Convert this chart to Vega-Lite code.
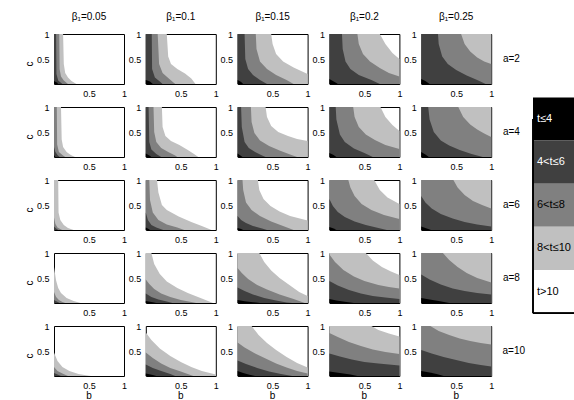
{
"$schema": "https://vega.github.io/schema/vega-lite/v6.json",
"padding": {"left": 25, "top": 12, "right": 0, "bottom": 0},
"config": {
 "font": "Liberation Sans",
 "view": {"stroke": "black", "strokeWidth": 1},
 "axis": {"domain": false, "ticks": false, "grid": false, "labelFontSize": 9, "labelColor": "black", "labelPadding": 5, "labelFlush": false, "labelOverlap": false, "format": "~g"},
 "header": {"labelFontSize": 10, "titleFontSize": 10, "titleFontWeight": "normal", "labelColor": "black", "titleColor": "black"}
},
"datasets": {
 "leg": [{"lab": "t≤4"}, {"lab": "4<t≤6"}, {"lab": "6<t≤8"}, {"lab": "8<t≤10"}, {"lab": "t>10"}],
 "d": [
{"a":2,"p":0.05,"k":10,"b":0,"c":1},{"a":2,"p":0.05,"k":10,"b":0.13,"c":1},{"a":2,"p":0.05,"k":10,"b":0.14,"c":0.4},{"a":2,"p":0.05,"k":10,"b":0.16,"c":0.22},{"a":2,"p":0.05,"k":10,"b":0.2,"c":0.13},{"a":2,"p":0.05,"k":10,"b":0.25,"c":0.06},{"a":2,"p":0.05,"k":10,"b":0.32,"c":0},
{"a":2,"p":0.05,"k":8,"b":0,"c":1},{"a":2,"p":0.05,"k":8,"b":0.075,"c":1},{"a":2,"p":0.05,"k":8,"b":0.08,"c":0.3},{"a":2,"p":0.05,"k":8,"b":0.1,"c":0.15},{"a":2,"p":0.05,"k":8,"b":0.14,"c":0.07},{"a":2,"p":0.05,"k":8,"b":0.2,"c":0},
{"a":2,"p":0.05,"k":6,"b":0,"c":1},{"a":2,"p":0.05,"k":6,"b":0.03,"c":1},{"a":2,"p":0.05,"k":6,"b":0.035,"c":0.2},{"a":2,"p":0.05,"k":6,"b":0.06,"c":0.07},{"a":2,"p":0.05,"k":6,"b":0.12,"c":0},
{"a":2,"p":0.05,"k":4,"b":0,"c":0.06},{"a":2,"p":0.05,"k":4,"b":0.04,"c":0.03},{"a":2,"p":0.05,"k":4,"b":0.06,"c":0},

{"a":2,"p":0.1,"k":10,"b":0,"c":1},{"a":2,"p":0.1,"k":10,"b":0.3,"c":1},{"a":2,"p":0.1,"k":10,"b":0.32,"c":0.55},{"a":2,"p":0.1,"k":10,"b":0.36,"c":0.4},{"a":2,"p":0.1,"k":10,"b":0.45,"c":0.3},{"a":2,"p":0.1,"k":10,"b":0.56,"c":0.21},{"a":2,"p":0.1,"k":10,"b":0.65,"c":0.11},{"a":2,"p":0.1,"k":10,"b":0.71,"c":0},
{"a":2,"p":0.1,"k":8,"b":0,"c":1},{"a":2,"p":0.1,"k":8,"b":0.17,"c":1},{"a":2,"p":0.1,"k":8,"b":0.19,"c":0.4},{"a":2,"p":0.1,"k":8,"b":0.24,"c":0.22},{"a":2,"p":0.1,"k":8,"b":0.32,"c":0.12},{"a":2,"p":0.1,"k":8,"b":0.42,"c":0},
{"a":2,"p":0.1,"k":6,"b":0,"c":1},{"a":2,"p":0.1,"k":6,"b":0.085,"c":1},{"a":2,"p":0.1,"k":6,"b":0.09,"c":0.3},{"a":2,"p":0.1,"k":6,"b":0.13,"c":0.13},{"a":2,"p":0.1,"k":6,"b":0.2,"c":0.05},{"a":2,"p":0.1,"k":6,"b":0.24,"c":0},
{"a":2,"p":0.1,"k":4,"b":0,"c":0.08},{"a":2,"p":0.1,"k":4,"b":0.06,"c":0.05},{"a":2,"p":0.1,"k":4,"b":0.1,"c":0},

{"a":2,"p":0.15,"k":10,"b":0,"c":1},{"a":2,"p":0.15,"k":10,"b":0.48,"c":1},{"a":2,"p":0.15,"k":10,"b":0.5,"c":0.8},{"a":2,"p":0.15,"k":10,"b":0.55,"c":0.6},{"a":2,"p":0.15,"k":10,"b":0.65,"c":0.45},{"a":2,"p":0.15,"k":10,"b":0.8,"c":0.33},{"a":2,"p":0.15,"k":10,"b":1,"c":0.2},
{"a":2,"p":0.15,"k":8,"b":0,"c":1},{"a":2,"p":0.15,"k":8,"b":0.26,"c":1},{"a":2,"p":0.15,"k":8,"b":0.27,"c":0.7},{"a":2,"p":0.15,"k":8,"b":0.32,"c":0.45},{"a":2,"p":0.15,"k":8,"b":0.42,"c":0.3},{"a":2,"p":0.15,"k":8,"b":0.55,"c":0.18},{"a":2,"p":0.15,"k":8,"b":0.7,"c":0.08},{"a":2,"p":0.15,"k":8,"b":0.8,"c":0},
{"a":2,"p":0.15,"k":6,"b":0,"c":1},{"a":2,"p":0.15,"k":6,"b":0.1,"c":1},{"a":2,"p":0.15,"k":6,"b":0.11,"c":0.5},{"a":2,"p":0.15,"k":6,"b":0.15,"c":0.3},{"a":2,"p":0.15,"k":6,"b":0.22,"c":0.18},{"a":2,"p":0.15,"k":6,"b":0.32,"c":0.08},{"a":2,"p":0.15,"k":6,"b":0.42,"c":0},
{"a":2,"p":0.15,"k":4,"b":0,"c":0.08},{"a":2,"p":0.15,"k":4,"b":0.05,"c":0.04},{"a":2,"p":0.15,"k":4,"b":0.08,"c":0},

{"a":2,"p":0.2,"k":10,"b":0,"c":1},{"a":2,"p":0.2,"k":10,"b":0.72,"c":1},{"a":2,"p":0.2,"k":10,"b":0.8,"c":0.8},{"a":2,"p":0.2,"k":10,"b":0.9,"c":0.62},{"a":2,"p":0.2,"k":10,"b":1,"c":0.5},
{"a":2,"p":0.2,"k":8,"b":0,"c":1},{"a":2,"p":0.2,"k":8,"b":0.4,"c":1},{"a":2,"p":0.2,"k":8,"b":0.42,"c":0.8},{"a":2,"p":0.2,"k":8,"b":0.48,"c":0.6},{"a":2,"p":0.2,"k":8,"b":0.58,"c":0.45},{"a":2,"p":0.2,"k":8,"b":0.72,"c":0.32},{"a":2,"p":0.2,"k":8,"b":0.85,"c":0.22},{"a":2,"p":0.2,"k":8,"b":1,"c":0.15},
{"a":2,"p":0.2,"k":6,"b":0,"c":1},{"a":2,"p":0.2,"k":6,"b":0.18,"c":1},{"a":2,"p":0.2,"k":6,"b":0.19,"c":0.7},{"a":2,"p":0.2,"k":6,"b":0.23,"c":0.45},{"a":2,"p":0.2,"k":6,"b":0.3,"c":0.3},{"a":2,"p":0.2,"k":6,"b":0.42,"c":0.18},{"a":2,"p":0.2,"k":6,"b":0.6,"c":0.08},{"a":2,"p":0.2,"k":6,"b":0.72,"c":0},
{"a":2,"p":0.2,"k":4,"b":0,"c":0.1},{"a":2,"p":0.2,"k":4,"b":0.05,"c":0.06},{"a":2,"p":0.2,"k":4,"b":0.1,"c":0.02},{"a":2,"p":0.2,"k":4,"b":0.12,"c":0},

{"a":2,"p":0.25,"k":10,"b":0,"c":1},{"a":2,"p":0.25,"k":10,"b":1,"c":1},
{"a":2,"p":0.25,"k":8,"b":0,"c":1},{"a":2,"p":0.25,"k":8,"b":0.57,"c":1},{"a":2,"p":0.25,"k":8,"b":0.62,"c":0.8},{"a":2,"p":0.25,"k":8,"b":0.7,"c":0.65},{"a":2,"p":0.25,"k":8,"b":0.8,"c":0.53},{"a":2,"p":0.25,"k":8,"b":0.9,"c":0.45},{"a":2,"p":0.25,"k":8,"b":1,"c":0.4},
{"a":2,"p":0.25,"k":6,"b":0,"c":1},{"a":2,"p":0.25,"k":6,"b":0.24,"c":1},{"a":2,"p":0.25,"k":6,"b":0.25,"c":0.8},{"a":2,"p":0.25,"k":6,"b":0.3,"c":0.55},{"a":2,"p":0.25,"k":6,"b":0.38,"c":0.4},{"a":2,"p":0.25,"k":6,"b":0.5,"c":0.28},{"a":2,"p":0.25,"k":6,"b":0.65,"c":0.17},{"a":2,"p":0.25,"k":6,"b":0.8,"c":0.08},{"a":2,"p":0.25,"k":6,"b":0.92,"c":0},
{"a":2,"p":0.25,"k":4,"b":0,"c":0.1},{"a":2,"p":0.25,"k":4,"b":0.06,"c":0.06},{"a":2,"p":0.25,"k":4,"b":0.1,"c":0.02},{"a":2,"p":0.25,"k":4,"b":0.12,"c":0},

{"a":4,"p":0.05,"k":10,"b":0,"c":1},{"a":4,"p":0.05,"k":10,"b":0.1,"c":1},{"a":4,"p":0.05,"k":10,"b":0.11,"c":0.35},{"a":4,"p":0.05,"k":10,"b":0.13,"c":0.2},{"a":4,"p":0.05,"k":10,"b":0.18,"c":0.1},{"a":4,"p":0.05,"k":10,"b":0.24,"c":0.04},{"a":4,"p":0.05,"k":10,"b":0.3,"c":0},
{"a":4,"p":0.05,"k":8,"b":0,"c":1},{"a":4,"p":0.05,"k":8,"b":0.04,"c":1},{"a":4,"p":0.05,"k":8,"b":0.045,"c":0.25},{"a":4,"p":0.05,"k":8,"b":0.07,"c":0.1},{"a":4,"p":0.05,"k":8,"b":0.12,"c":0.04},{"a":4,"p":0.05,"k":8,"b":0.16,"c":0},
{"a":4,"p":0.05,"k":6,"b":0,"c":0.2},{"a":4,"p":0.05,"k":6,"b":0.02,"c":0.1},{"a":4,"p":0.05,"k":6,"b":0.05,"c":0.04},{"a":4,"p":0.05,"k":6,"b":0.08,"c":0},
{"a":4,"p":0.05,"k":4,"b":0,"c":0.04},{"a":4,"p":0.05,"k":4,"b":0.02,"c":0},

{"a":4,"p":0.1,"k":10,"b":0,"c":1},{"a":4,"p":0.1,"k":10,"b":0.23,"c":1},{"a":4,"p":0.1,"k":10,"b":0.24,"c":0.6},{"a":4,"p":0.1,"k":10,"b":0.28,"c":0.42},{"a":4,"p":0.1,"k":10,"b":0.36,"c":0.32},{"a":4,"p":0.1,"k":10,"b":0.48,"c":0.24},{"a":4,"p":0.1,"k":10,"b":0.6,"c":0.14},{"a":4,"p":0.1,"k":10,"b":0.7,"c":0.05},{"a":4,"p":0.1,"k":10,"b":0.75,"c":0},
{"a":4,"p":0.1,"k":8,"b":0,"c":1},{"a":4,"p":0.1,"k":8,"b":0.11,"c":1},{"a":4,"p":0.1,"k":8,"b":0.12,"c":0.5},{"a":4,"p":0.1,"k":8,"b":0.15,"c":0.3},{"a":4,"p":0.1,"k":8,"b":0.22,"c":0.18},{"a":4,"p":0.1,"k":8,"b":0.32,"c":0.1},{"a":4,"p":0.1,"k":8,"b":0.42,"c":0.03},{"a":4,"p":0.1,"k":8,"b":0.45,"c":0},
{"a":4,"p":0.1,"k":6,"b":0,"c":1},{"a":4,"p":0.1,"k":6,"b":0.04,"c":1},{"a":4,"p":0.1,"k":6,"b":0.05,"c":0.3},{"a":4,"p":0.1,"k":6,"b":0.08,"c":0.15},{"a":4,"p":0.1,"k":6,"b":0.15,"c":0.06},{"a":4,"p":0.1,"k":6,"b":0.22,"c":0},
{"a":4,"p":0.1,"k":4,"b":0,"c":0.07},{"a":4,"p":0.1,"k":4,"b":0.05,"c":0.03},{"a":4,"p":0.1,"k":4,"b":0.08,"c":0},

{"a":4,"p":0.15,"k":10,"b":0,"c":1},{"a":4,"p":0.15,"k":10,"b":0.4,"c":1},{"a":4,"p":0.15,"k":10,"b":0.42,"c":0.8},{"a":4,"p":0.15,"k":10,"b":0.48,"c":0.62},{"a":4,"p":0.15,"k":10,"b":0.58,"c":0.5},{"a":4,"p":0.15,"k":10,"b":0.72,"c":0.42},{"a":4,"p":0.15,"k":10,"b":0.85,"c":0.36},{"a":4,"p":0.15,"k":10,"b":1,"c":0.32},
{"a":4,"p":0.15,"k":8,"b":0,"c":1},{"a":4,"p":0.15,"k":8,"b":0.19,"c":1},{"a":4,"p":0.15,"k":8,"b":0.2,"c":0.7},{"a":4,"p":0.15,"k":8,"b":0.24,"c":0.48},{"a":4,"p":0.15,"k":8,"b":0.32,"c":0.33},{"a":4,"p":0.15,"k":8,"b":0.45,"c":0.22},{"a":4,"p":0.15,"k":8,"b":0.6,"c":0.13},{"a":4,"p":0.15,"k":8,"b":0.75,"c":0.05},{"a":4,"p":0.15,"k":8,"b":0.85,"c":0},
{"a":4,"p":0.15,"k":6,"b":0,"c":1},{"a":4,"p":0.15,"k":6,"b":0.05,"c":1},{"a":4,"p":0.15,"k":6,"b":0.06,"c":0.6},{"a":4,"p":0.15,"k":6,"b":0.1,"c":0.3},{"a":4,"p":0.15,"k":6,"b":0.16,"c":0.18},{"a":4,"p":0.15,"k":6,"b":0.25,"c":0.1},{"a":4,"p":0.15,"k":6,"b":0.35,"c":0.03},{"a":4,"p":0.15,"k":6,"b":0.4,"c":0},
{"a":4,"p":0.15,"k":4,"b":0,"c":0.07},{"a":4,"p":0.15,"k":4,"b":0.04,"c":0.03},{"a":4,"p":0.15,"k":4,"b":0.07,"c":0},

{"a":4,"p":0.2,"k":10,"b":0,"c":1},{"a":4,"p":0.2,"k":10,"b":0.73,"c":1},{"a":4,"p":0.2,"k":10,"b":0.8,"c":0.8},{"a":4,"p":0.2,"k":10,"b":0.9,"c":0.64},{"a":4,"p":0.2,"k":10,"b":1,"c":0.52},
{"a":4,"p":0.2,"k":8,"b":0,"c":1},{"a":4,"p":0.2,"k":8,"b":0.34,"c":1},{"a":4,"p":0.2,"k":8,"b":0.36,"c":0.8},{"a":4,"p":0.2,"k":8,"b":0.42,"c":0.6},{"a":4,"p":0.2,"k":8,"b":0.52,"c":0.45},{"a":4,"p":0.2,"k":8,"b":0.65,"c":0.34},{"a":4,"p":0.2,"k":8,"b":0.8,"c":0.24},{"a":4,"p":0.2,"k":8,"b":1,"c":0.16},
{"a":4,"p":0.2,"k":6,"b":0,"c":1},{"a":4,"p":0.2,"k":6,"b":0.09,"c":1},{"a":4,"p":0.2,"k":6,"b":0.1,"c":0.75},{"a":4,"p":0.2,"k":6,"b":0.15,"c":0.45},{"a":4,"p":0.2,"k":6,"b":0.22,"c":0.3},{"a":4,"p":0.2,"k":6,"b":0.35,"c":0.17},{"a":4,"p":0.2,"k":6,"b":0.5,"c":0.08},{"a":4,"p":0.2,"k":6,"b":0.62,"c":0},
{"a":4,"p":0.2,"k":4,"b":0,"c":0.08},{"a":4,"p":0.2,"k":4,"b":0.06,"c":0.04},{"a":4,"p":0.2,"k":4,"b":0.1,"c":0},

{"a":4,"p":0.25,"k":10,"b":0,"c":1},{"a":4,"p":0.25,"k":10,"b":1,"c":1},
{"a":4,"p":0.25,"k":8,"b":0,"c":1},{"a":4,"p":0.25,"k":8,"b":0.53,"c":1},{"a":4,"p":0.25,"k":8,"b":0.6,"c":0.8},{"a":4,"p":0.25,"k":8,"b":0.7,"c":0.65},{"a":4,"p":0.25,"k":8,"b":0.8,"c":0.55},{"a":4,"p":0.25,"k":8,"b":0.9,"c":0.47},{"a":4,"p":0.25,"k":8,"b":1,"c":0.4},
{"a":4,"p":0.25,"k":6,"b":0,"c":1},{"a":4,"p":0.25,"k":6,"b":0.1,"c":1},{"a":4,"p":0.25,"k":6,"b":0.12,"c":0.75},{"a":4,"p":0.25,"k":6,"b":0.18,"c":0.5},{"a":4,"p":0.25,"k":6,"b":0.28,"c":0.33},{"a":4,"p":0.25,"k":6,"b":0.4,"c":0.23},{"a":4,"p":0.25,"k":6,"b":0.55,"c":0.14},{"a":4,"p":0.25,"k":6,"b":0.72,"c":0.06},{"a":4,"p":0.25,"k":6,"b":0.88,"c":0},
{"a":4,"p":0.25,"k":4,"b":0,"c":0.1},{"a":4,"p":0.25,"k":4,"b":0.06,"c":0.05},{"a":4,"p":0.25,"k":4,"b":0.11,"c":0},

{"a":6,"p":0.05,"k":10,"b":0,"c":1},{"a":6,"p":0.05,"k":10,"b":0.06,"c":1},{"a":6,"p":0.05,"k":10,"b":0.065,"c":0.35},{"a":6,"p":0.05,"k":10,"b":0.09,"c":0.2},{"a":6,"p":0.05,"k":10,"b":0.14,"c":0.1},{"a":6,"p":0.05,"k":10,"b":0.2,"c":0.04},{"a":6,"p":0.05,"k":10,"b":0.28,"c":0},
{"a":6,"p":0.05,"k":8,"b":0,"c":0.25},{"a":6,"p":0.05,"k":8,"b":0.02,"c":0.12},{"a":6,"p":0.05,"k":8,"b":0.05,"c":0.05},{"a":6,"p":0.05,"k":8,"b":0.1,"c":0.01},{"a":6,"p":0.05,"k":8,"b":0.12,"c":0},
{"a":6,"p":0.05,"k":6,"b":0,"c":0.07},{"a":6,"p":0.05,"k":6,"b":0.03,"c":0.03},{"a":6,"p":0.05,"k":6,"b":0.06,"c":0},

{"a":6,"p":0.1,"k":10,"b":0,"c":1},{"a":6,"p":0.1,"k":10,"b":0.16,"c":1},{"a":6,"p":0.1,"k":10,"b":0.18,"c":0.75},{"a":6,"p":0.1,"k":10,"b":0.23,"c":0.5},{"a":6,"p":0.1,"k":10,"b":0.3,"c":0.4},{"a":6,"p":0.1,"k":10,"b":0.47,"c":0.27},{"a":6,"p":0.1,"k":10,"b":0.65,"c":0.16},{"a":6,"p":0.1,"k":10,"b":0.8,"c":0.08},{"a":6,"p":0.1,"k":10,"b":0.94,"c":0},
{"a":6,"p":0.1,"k":8,"b":0,"c":1},{"a":6,"p":0.1,"k":8,"b":0.05,"c":1},{"a":6,"p":0.1,"k":8,"b":0.06,"c":0.6},{"a":6,"p":0.1,"k":8,"b":0.1,"c":0.35},{"a":6,"p":0.1,"k":8,"b":0.18,"c":0.2},{"a":6,"p":0.1,"k":8,"b":0.3,"c":0.11},{"a":6,"p":0.1,"k":8,"b":0.45,"c":0.05},{"a":6,"p":0.1,"k":8,"b":0.55,"c":0},
{"a":6,"p":0.1,"k":6,"b":0,"c":0.35},{"a":6,"p":0.1,"k":6,"b":0.03,"c":0.2},{"a":6,"p":0.1,"k":6,"b":0.08,"c":0.1},{"a":6,"p":0.1,"k":6,"b":0.15,"c":0.05},{"a":6,"p":0.1,"k":6,"b":0.25,"c":0},
{"a":6,"p":0.1,"k":4,"b":0,"c":0.05},{"a":6,"p":0.1,"k":4,"b":0.04,"c":0.02},{"a":6,"p":0.1,"k":4,"b":0.06,"c":0},

{"a":6,"p":0.15,"k":10,"b":0,"c":1},{"a":6,"p":0.15,"k":10,"b":0.29,"c":1},{"a":6,"p":0.15,"k":10,"b":0.31,"c":0.8},{"a":6,"p":0.15,"k":10,"b":0.37,"c":0.62},{"a":6,"p":0.15,"k":10,"b":0.47,"c":0.48},{"a":6,"p":0.15,"k":10,"b":0.6,"c":0.37},{"a":6,"p":0.15,"k":10,"b":0.75,"c":0.28},{"a":6,"p":0.15,"k":10,"b":1,"c":0.19},
{"a":6,"p":0.15,"k":8,"b":0,"c":1},{"a":6,"p":0.15,"k":8,"b":0.07,"c":1},{"a":6,"p":0.15,"k":8,"b":0.08,"c":0.8},{"a":6,"p":0.15,"k":8,"b":0.12,"c":0.55},{"a":6,"p":0.15,"k":8,"b":0.2,"c":0.4},{"a":6,"p":0.15,"k":8,"b":0.32,"c":0.28},{"a":6,"p":0.15,"k":8,"b":0.48,"c":0.17},{"a":6,"p":0.15,"k":8,"b":0.65,"c":0.08},{"a":6,"p":0.15,"k":8,"b":0.8,"c":0},
{"a":6,"p":0.15,"k":6,"b":0,"c":0.28},{"a":6,"p":0.15,"k":6,"b":0.05,"c":0.2},{"a":6,"p":0.15,"k":6,"b":0.12,"c":0.14},{"a":6,"p":0.15,"k":6,"b":0.22,"c":0.08},{"a":6,"p":0.15,"k":6,"b":0.35,"c":0.03},{"a":6,"p":0.15,"k":6,"b":0.42,"c":0},
{"a":6,"p":0.15,"k":4,"b":0,"c":0.04},{"a":6,"p":0.15,"k":4,"b":0.05,"c":0.02},{"a":6,"p":0.15,"k":4,"b":0.08,"c":0},

{"a":6,"p":0.2,"k":10,"b":0,"c":1},{"a":6,"p":0.2,"k":10,"b":0.64,"c":1},{"a":6,"p":0.2,"k":10,"b":0.72,"c":0.8},{"a":6,"p":0.2,"k":10,"b":0.83,"c":0.65},{"a":6,"p":0.2,"k":10,"b":1,"c":0.52},
{"a":6,"p":0.2,"k":8,"b":0,"c":1},{"a":6,"p":0.2,"k":8,"b":0.27,"c":1},{"a":6,"p":0.2,"k":8,"b":0.3,"c":0.85},{"a":6,"p":0.2,"k":8,"b":0.36,"c":0.68},{"a":6,"p":0.2,"k":8,"b":0.46,"c":0.52},{"a":6,"p":0.2,"k":8,"b":0.6,"c":0.4},{"a":6,"p":0.2,"k":8,"b":0.78,"c":0.3},{"a":6,"p":0.2,"k":8,"b":1,"c":0.22},
{"a":6,"p":0.2,"k":6,"b":0,"c":0.62},{"a":6,"p":0.2,"k":6,"b":0.05,"c":0.48},{"a":6,"p":0.2,"k":6,"b":0.12,"c":0.36},{"a":6,"p":0.2,"k":6,"b":0.22,"c":0.26},{"a":6,"p":0.2,"k":6,"b":0.36,"c":0.17},{"a":6,"p":0.2,"k":6,"b":0.52,"c":0.1},{"a":6,"p":0.2,"k":6,"b":0.7,"c":0.04},{"a":6,"p":0.2,"k":6,"b":0.82,"c":0},
{"a":6,"p":0.2,"k":4,"b":0,"c":0.06},{"a":6,"p":0.2,"k":4,"b":0.06,"c":0.03},{"a":6,"p":0.2,"k":4,"b":0.1,"c":0},

{"a":6,"p":0.25,"k":10,"b":0,"c":1},{"a":6,"p":0.25,"k":10,"b":1,"c":1},
{"a":6,"p":0.25,"k":8,"b":0,"c":1},{"a":6,"p":0.25,"k":8,"b":0.46,"c":1},{"a":6,"p":0.25,"k":8,"b":0.52,"c":0.85},{"a":6,"p":0.25,"k":8,"b":0.62,"c":0.7},{"a":6,"p":0.25,"k":8,"b":0.74,"c":0.58},{"a":6,"p":0.25,"k":8,"b":0.87,"c":0.5},{"a":6,"p":0.25,"k":8,"b":1,"c":0.43},
{"a":6,"p":0.25,"k":6,"b":0,"c":0.68},{"a":6,"p":0.25,"k":6,"b":0.06,"c":0.55},{"a":6,"p":0.25,"k":6,"b":0.15,"c":0.43},{"a":6,"p":0.25,"k":6,"b":0.28,"c":0.32},{"a":6,"p":0.25,"k":6,"b":0.45,"c":0.23},{"a":6,"p":0.25,"k":6,"b":0.62,"c":0.16},{"a":6,"p":0.25,"k":6,"b":0.8,"c":0.11},{"a":6,"p":0.25,"k":6,"b":1,"c":0.07},
{"a":6,"p":0.25,"k":4,"b":0,"c":0.07},{"a":6,"p":0.25,"k":4,"b":0.06,"c":0.04},{"a":6,"p":0.25,"k":4,"b":0.12,"c":0.01},{"a":6,"p":0.25,"k":4,"b":0.14,"c":0},

{"a":8,"p":0.05,"k":10,"b":0,"c":0.72},{"a":8,"p":0.05,"k":10,"b":0.03,"c":0.45},{"a":8,"p":0.05,"k":10,"b":0.06,"c":0.3},{"a":8,"p":0.05,"k":10,"b":0.1,"c":0.2},{"a":8,"p":0.05,"k":10,"b":0.18,"c":0.1},{"a":8,"p":0.05,"k":10,"b":0.28,"c":0.04},{"a":8,"p":0.05,"k":10,"b":0.38,"c":0},
{"a":8,"p":0.05,"k":8,"b":0,"c":0.22},{"a":8,"p":0.05,"k":8,"b":0.03,"c":0.12},{"a":8,"p":0.05,"k":8,"b":0.07,"c":0.06},{"a":8,"p":0.05,"k":8,"b":0.12,"c":0.02},{"a":8,"p":0.05,"k":8,"b":0.16,"c":0},
{"a":8,"p":0.05,"k":6,"b":0,"c":0.06},{"a":8,"p":0.05,"k":6,"b":0.04,"c":0.03},{"a":8,"p":0.05,"k":6,"b":0.08,"c":0},

{"a":8,"p":0.1,"k":10,"b":0,"c":1},{"a":8,"p":0.1,"k":10,"b":0.08,"c":1},{"a":8,"p":0.1,"k":10,"b":0.12,"c":0.78},{"a":8,"p":0.1,"k":10,"b":0.2,"c":0.58},{"a":8,"p":0.1,"k":10,"b":0.3,"c":0.43},{"a":8,"p":0.1,"k":10,"b":0.45,"c":0.3},{"a":8,"p":0.1,"k":10,"b":0.6,"c":0.2},{"a":8,"p":0.1,"k":10,"b":0.8,"c":0.09},{"a":8,"p":0.1,"k":10,"b":0.96,"c":0},
{"a":8,"p":0.1,"k":8,"b":0,"c":0.47},{"a":8,"p":0.1,"k":8,"b":0.05,"c":0.38},{"a":8,"p":0.1,"k":8,"b":0.12,"c":0.28},{"a":8,"p":0.1,"k":8,"b":0.22,"c":0.19},{"a":8,"p":0.1,"k":8,"b":0.35,"c":0.12},{"a":8,"p":0.1,"k":8,"b":0.5,"c":0.06},{"a":8,"p":0.1,"k":8,"b":0.65,"c":0.02},{"a":8,"p":0.1,"k":8,"b":0.72,"c":0},
{"a":8,"p":0.1,"k":6,"b":0,"c":0.19},{"a":8,"p":0.1,"k":6,"b":0.08,"c":0.12},{"a":8,"p":0.1,"k":6,"b":0.18,"c":0.07},{"a":8,"p":0.1,"k":6,"b":0.3,"c":0.03},{"a":8,"p":0.1,"k":6,"b":0.38,"c":0},
{"a":8,"p":0.1,"k":4,"b":0,"c":0.04},{"a":8,"p":0.1,"k":4,"b":0.1,"c":0.015},{"a":8,"p":0.1,"k":4,"b":0.15,"c":0},

{"a":8,"p":0.15,"k":10,"b":0,"c":1},{"a":8,"p":0.15,"k":10,"b":0.31,"c":1},{"a":8,"p":0.15,"k":10,"b":0.38,"c":0.82},{"a":8,"p":0.15,"k":10,"b":0.48,"c":0.65},{"a":8,"p":0.15,"k":10,"b":0.6,"c":0.5},{"a":8,"p":0.15,"k":10,"b":0.75,"c":0.35},{"a":8,"p":0.15,"k":10,"b":0.88,"c":0.22},{"a":8,"p":0.15,"k":10,"b":1,"c":0.14},
{"a":8,"p":0.15,"k":8,"b":0,"c":0.7},{"a":8,"p":0.15,"k":8,"b":0.06,"c":0.6},{"a":8,"p":0.15,"k":8,"b":0.15,"c":0.48},{"a":8,"p":0.15,"k":8,"b":0.28,"c":0.36},{"a":8,"p":0.15,"k":8,"b":0.42,"c":0.27},{"a":8,"p":0.15,"k":8,"b":0.6,"c":0.17},{"a":8,"p":0.15,"k":8,"b":0.8,"c":0.08},{"a":8,"p":0.15,"k":8,"b":0.96,"c":0},
{"a":8,"p":0.15,"k":6,"b":0,"c":0.31},{"a":8,"p":0.15,"k":6,"b":0.1,"c":0.24},{"a":8,"p":0.15,"k":6,"b":0.22,"c":0.17},{"a":8,"p":0.15,"k":6,"b":0.38,"c":0.1},{"a":8,"p":0.15,"k":6,"b":0.55,"c":0.05},{"a":8,"p":0.15,"k":6,"b":0.7,"c":0.01},{"a":8,"p":0.15,"k":6,"b":0.78,"c":0},
{"a":8,"p":0.15,"k":4,"b":0,"c":0.06},{"a":8,"p":0.15,"k":4,"b":0.1,"c":0.035},{"a":8,"p":0.15,"k":4,"b":0.22,"c":0.015},{"a":8,"p":0.15,"k":4,"b":0.32,"c":0},

{"a":8,"p":0.2,"k":10,"b":0,"c":1},{"a":8,"p":0.2,"k":10,"b":0.52,"c":1},{"a":8,"p":0.2,"k":10,"b":0.62,"c":0.85},{"a":8,"p":0.2,"k":10,"b":0.75,"c":0.72},{"a":8,"p":0.2,"k":10,"b":0.88,"c":0.63},{"a":8,"p":0.2,"k":10,"b":1,"c":0.56},
{"a":8,"p":0.2,"k":8,"b":0,"c":0.97},{"a":8,"p":0.2,"k":8,"b":0.08,"c":0.82},{"a":8,"p":0.2,"k":8,"b":0.2,"c":0.66},{"a":8,"p":0.2,"k":8,"b":0.35,"c":0.53},{"a":8,"p":0.2,"k":8,"b":0.5,"c":0.44},{"a":8,"p":0.2,"k":8,"b":0.7,"c":0.36},{"a":8,"p":0.2,"k":8,"b":0.85,"c":0.32},{"a":8,"p":0.2,"k":8,"b":1,"c":0.29},
{"a":8,"p":0.2,"k":6,"b":0,"c":0.44},{"a":8,"p":0.2,"k":6,"b":0.12,"c":0.35},{"a":8,"p":0.2,"k":6,"b":0.28,"c":0.26},{"a":8,"p":0.2,"k":6,"b":0.45,"c":0.19},{"a":8,"p":0.2,"k":6,"b":0.62,"c":0.14},{"a":8,"p":0.2,"k":6,"b":0.8,"c":0.11},{"a":8,"p":0.2,"k":6,"b":1,"c":0.08},
{"a":8,"p":0.2,"k":4,"b":0,"c":0.08},{"a":8,"p":0.2,"k":4,"b":0.1,"c":0.05},{"a":8,"p":0.2,"k":4,"b":0.22,"c":0.025},{"a":8,"p":0.2,"k":4,"b":0.35,"c":0},

{"a":8,"p":0.25,"k":10,"b":0,"c":1},{"a":8,"p":0.25,"k":10,"b":1,"c":1},
{"a":8,"p":0.25,"k":8,"b":0,"c":1},{"a":8,"p":0.25,"k":8,"b":0.31,"c":1},{"a":8,"p":0.25,"k":8,"b":0.4,"c":0.86},{"a":8,"p":0.25,"k":8,"b":0.52,"c":0.72},{"a":8,"p":0.25,"k":8,"b":0.65,"c":0.6},{"a":8,"p":0.25,"k":8,"b":0.8,"c":0.5},{"a":8,"p":0.25,"k":8,"b":1,"c":0.41},
{"a":8,"p":0.25,"k":6,"b":0,"c":0.57},{"a":8,"p":0.25,"k":6,"b":0.12,"c":0.47},{"a":8,"p":0.25,"k":6,"b":0.28,"c":0.37},{"a":8,"p":0.25,"k":6,"b":0.45,"c":0.29},{"a":8,"p":0.25,"k":6,"b":0.62,"c":0.24},{"a":8,"p":0.25,"k":6,"b":0.8,"c":0.2},{"a":8,"p":0.25,"k":6,"b":1,"c":0.17},
{"a":8,"p":0.25,"k":4,"b":0,"c":0.1},{"a":8,"p":0.25,"k":4,"b":0.12,"c":0.07},{"a":8,"p":0.25,"k":4,"b":0.25,"c":0.04},{"a":8,"p":0.25,"k":4,"b":0.4,"c":0},

{"a":10,"p":0.05,"k":10,"b":0,"c":0.47},{"a":10,"p":0.05,"k":10,"b":0.05,"c":0.3},{"a":10,"p":0.05,"k":10,"b":0.12,"c":0.18},{"a":10,"p":0.05,"k":10,"b":0.22,"c":0.1},{"a":10,"p":0.05,"k":10,"b":0.35,"c":0.04},{"a":10,"p":0.05,"k":10,"b":0.5,"c":0.005},{"a":10,"p":0.05,"k":10,"b":0.53,"c":0},
{"a":10,"p":0.05,"k":8,"b":0,"c":0.18},{"a":10,"p":0.05,"k":8,"b":0.05,"c":0.1},{"a":10,"p":0.05,"k":8,"b":0.12,"c":0.05},{"a":10,"p":0.05,"k":8,"b":0.2,"c":0},
{"a":10,"p":0.05,"k":6,"b":0,"c":0.06},{"a":10,"p":0.05,"k":6,"b":0.05,"c":0.03},{"a":10,"p":0.05,"k":6,"b":0.1,"c":0},

{"a":10,"p":0.1,"k":10,"b":0,"c":0.87},{"a":10,"p":0.1,"k":10,"b":0.08,"c":0.72},{"a":10,"p":0.1,"k":10,"b":0.2,"c":0.55},{"a":10,"p":0.1,"k":10,"b":0.35,"c":0.4},{"a":10,"p":0.1,"k":10,"b":0.5,"c":0.28},{"a":10,"p":0.1,"k":10,"b":0.65,"c":0.18},{"a":10,"p":0.1,"k":10,"b":0.8,"c":0.1},{"a":10,"p":0.1,"k":10,"b":1,"c":0.03},
{"a":10,"p":0.1,"k":8,"b":0,"c":0.47},{"a":10,"p":0.1,"k":8,"b":0.1,"c":0.36},{"a":10,"p":0.1,"k":8,"b":0.22,"c":0.25},{"a":10,"p":0.1,"k":8,"b":0.35,"c":0.16},{"a":10,"p":0.1,"k":8,"b":0.5,"c":0.09},{"a":10,"p":0.1,"k":8,"b":0.62,"c":0.03},{"a":10,"p":0.1,"k":8,"b":0.68,"c":0},
{"a":10,"p":0.1,"k":6,"b":0,"c":0.23},{"a":10,"p":0.1,"k":6,"b":0.1,"c":0.16},{"a":10,"p":0.1,"k":6,"b":0.22,"c":0.1},{"a":10,"p":0.1,"k":6,"b":0.35,"c":0.04},{"a":10,"p":0.1,"k":6,"b":0.42,"c":0},
{"a":10,"p":0.1,"k":4,"b":0,"c":0.05},{"a":10,"p":0.1,"k":4,"b":0.1,"c":0.02},{"a":10,"p":0.1,"k":4,"b":0.15,"c":0},

{"a":10,"p":0.15,"k":10,"b":0,"c":1},{"a":10,"p":0.15,"k":10,"b":0.2,"c":1},{"a":10,"p":0.15,"k":10,"b":0.3,"c":0.82},{"a":10,"p":0.15,"k":10,"b":0.42,"c":0.66},{"a":10,"p":0.15,"k":10,"b":0.55,"c":0.52},{"a":10,"p":0.15,"k":10,"b":0.7,"c":0.38},{"a":10,"p":0.15,"k":10,"b":0.85,"c":0.26},{"a":10,"p":0.15,"k":10,"b":1,"c":0.17},
{"a":10,"p":0.15,"k":8,"b":0,"c":0.67},{"a":10,"p":0.15,"k":8,"b":0.1,"c":0.57},{"a":10,"p":0.15,"k":8,"b":0.25,"c":0.45},{"a":10,"p":0.15,"k":8,"b":0.4,"c":0.35},{"a":10,"p":0.15,"k":8,"b":0.55,"c":0.25},{"a":10,"p":0.15,"k":8,"b":0.7,"c":0.17},{"a":10,"p":0.15,"k":8,"b":0.85,"c":0.1},{"a":10,"p":0.15,"k":8,"b":1,"c":0.05},
{"a":10,"p":0.15,"k":6,"b":0,"c":0.31},{"a":10,"p":0.15,"k":6,"b":0.12,"c":0.24},{"a":10,"p":0.15,"k":6,"b":0.28,"c":0.16},{"a":10,"p":0.15,"k":6,"b":0.45,"c":0.09},{"a":10,"p":0.15,"k":6,"b":0.62,"c":0.04},{"a":10,"p":0.15,"k":6,"b":0.78,"c":0},
{"a":10,"p":0.15,"k":4,"b":0,"c":0.1},{"a":10,"p":0.15,"k":4,"b":0.08,"c":0.06},{"a":10,"p":0.15,"k":4,"b":0.17,"c":0.025},{"a":10,"p":0.15,"k":4,"b":0.25,"c":0},

{"a":10,"p":0.2,"k":10,"b":0,"c":1},{"a":10,"p":0.2,"k":10,"b":0.6,"c":1},{"a":10,"p":0.2,"k":10,"b":0.7,"c":0.92},{"a":10,"p":0.2,"k":10,"b":0.85,"c":0.85},{"a":10,"p":0.2,"k":10,"b":1,"c":0.79},
{"a":10,"p":0.2,"k":8,"b":0,"c":0.86},{"a":10,"p":0.2,"k":8,"b":0.12,"c":0.78},{"a":10,"p":0.2,"k":8,"b":0.28,"c":0.68},{"a":10,"p":0.2,"k":8,"b":0.45,"c":0.6},{"a":10,"p":0.2,"k":8,"b":0.62,"c":0.53},{"a":10,"p":0.2,"k":8,"b":0.8,"c":0.48},{"a":10,"p":0.2,"k":8,"b":1,"c":0.44},
{"a":10,"p":0.2,"k":6,"b":0,"c":0.45},{"a":10,"p":0.2,"k":6,"b":0.15,"c":0.39},{"a":10,"p":0.2,"k":6,"b":0.32,"c":0.33},{"a":10,"p":0.2,"k":6,"b":0.5,"c":0.28},{"a":10,"p":0.2,"k":6,"b":0.7,"c":0.25},{"a":10,"p":0.2,"k":6,"b":0.85,"c":0.23},{"a":10,"p":0.2,"k":6,"b":1,"c":0.21},
{"a":10,"p":0.2,"k":4,"b":0,"c":0.09},{"a":10,"p":0.2,"k":4,"b":0.15,"c":0.06},{"a":10,"p":0.2,"k":4,"b":0.3,"c":0.03},{"a":10,"p":0.2,"k":4,"b":0.4,"c":0},

{"a":10,"p":0.25,"k":10,"b":0,"c":1},{"a":10,"p":0.25,"k":10,"b":1,"c":1},
{"a":10,"p":0.25,"k":8,"b":0,"c":1},{"a":10,"p":0.25,"k":8,"b":0.13,"c":1},{"a":10,"p":0.25,"k":8,"b":0.25,"c":0.9},{"a":10,"p":0.25,"k":8,"b":0.4,"c":0.82},{"a":10,"p":0.25,"k":8,"b":0.55,"c":0.75},{"a":10,"p":0.25,"k":8,"b":0.7,"c":0.7},{"a":10,"p":0.25,"k":8,"b":0.85,"c":0.66},{"a":10,"p":0.25,"k":8,"b":1,"c":0.63},
{"a":10,"p":0.25,"k":6,"b":0,"c":0.52},{"a":10,"p":0.25,"k":6,"b":0.15,"c":0.45},{"a":10,"p":0.25,"k":6,"b":0.32,"c":0.38},{"a":10,"p":0.25,"k":6,"b":0.5,"c":0.32},{"a":10,"p":0.25,"k":6,"b":0.68,"c":0.26},{"a":10,"p":0.25,"k":6,"b":0.85,"c":0.22},{"a":10,"p":0.25,"k":6,"b":1,"c":0.19},
{"a":10,"p":0.25,"k":4,"b":0,"c":0.1},{"a":10,"p":0.25,"k":4,"b":0.12,"c":0.07},{"a":10,"p":0.25,"k":4,"b":0.22,"c":0.04},{"a":10,"p":0.25,"k":4,"b":0.32,"c":0}
 ]
},
"spacing": 6,
"hconcat": [
 {
  "data": {"name": "d"},
  "spacing": 3,
  "vconcat": [
   {
    "transform": [{"filter": "datum.a == 2"}],
    "facet": {
     "row": {"field": "a", "type": "ordinal", "header": {"title": "c", "titleOrient": "left", "titlePadding": -10, "labelOrient": "right", "labelPadding": -9, "labelAngle": 0, "labelAlign": "left", "labelBaseline": "middle", "labelExpr": "'a=' + datum.value"}},
     "column": {"field": "p", "type": "ordinal", "header": {"title": null, "labelOrient": "top", "labelPadding": 7, "labelExpr": "'β₁=' + datum.value"}}
    },
    "spacing": {"row": 0, "column": -1.2},
    "resolve": {"axis": {"x": "independent", "y": "independent"}},
    "spec": {
     "width": 70, "height": 50,
     "encoding": {
      "x": {"field": "b", "type": "quantitative", "scale": {"domain": [0, 1], "nice": false}, "axis": {"values": [0.5, 1], "title": null}},
      "y": {"field": "c", "type": "quantitative", "scale": {"domain": [0, 1], "nice": false}, "axis": {"values": [0.5, 1], "title": null}},
      "y2": {"datum": 0}
     },
     "layer": [
      {"transform": [{"filter": "datum.k == 10"}], "mark": {"type": "area", "color": "#c0c0c0"}},
      {"transform": [{"filter": "datum.k == 8"}], "mark": {"type": "area", "color": "#808080"}},
      {"transform": [{"filter": "datum.k == 6"}], "mark": {"type": "area", "color": "#404040"}},
      {"transform": [{"filter": "datum.k == 4"}], "mark": {"type": "area", "color": "#000000"}}
     ]
    }
   },
   {
    "transform": [{"filter": "datum.a == 4"}],
    "facet": {
     "row": {"field": "a", "type": "ordinal", "header": {"title": "c", "titleOrient": "left", "titlePadding": -10, "labelOrient": "right", "labelPadding": -9, "labelAngle": 0, "labelAlign": "left", "labelBaseline": "middle", "labelExpr": "'a=' + datum.value"}},
     "column": {"field": "p", "type": "ordinal", "header": {"title": null, "labels": false}}
    },
    "spacing": {"row": 0, "column": -1.2},
    "resolve": {"axis": {"x": "independent", "y": "independent"}},
    "spec": {
     "width": 70, "height": 50,
     "encoding": {
      "x": {"field": "b", "type": "quantitative", "scale": {"domain": [0, 1], "nice": false}, "axis": {"values": [0.5, 1], "title": null}},
      "y": {"field": "c", "type": "quantitative", "scale": {"domain": [0, 1], "nice": false}, "axis": {"values": [0.5, 1], "title": null}},
      "y2": {"datum": 0}
     },
     "layer": [
      {"transform": [{"filter": "datum.k == 10"}], "mark": {"type": "area", "color": "#c0c0c0"}},
      {"transform": [{"filter": "datum.k == 8"}], "mark": {"type": "area", "color": "#808080"}},
      {"transform": [{"filter": "datum.k == 6"}], "mark": {"type": "area", "color": "#404040"}},
      {"transform": [{"filter": "datum.k == 4"}], "mark": {"type": "area", "color": "#000000"}}
     ]
    }
   },
   {
    "transform": [{"filter": "datum.a == 6"}],
    "facet": {
     "row": {"field": "a", "type": "ordinal", "header": {"title": "c", "titleOrient": "left", "titlePadding": -10, "labelOrient": "right", "labelPadding": -9, "labelAngle": 0, "labelAlign": "left", "labelBaseline": "middle", "labelExpr": "'a=' + datum.value"}},
     "column": {"field": "p", "type": "ordinal", "header": {"title": null, "labels": false}}
    },
    "spacing": {"row": 0, "column": -1.2},
    "resolve": {"axis": {"x": "independent", "y": "independent"}},
    "spec": {
     "width": 70, "height": 50,
     "encoding": {
      "x": {"field": "b", "type": "quantitative", "scale": {"domain": [0, 1], "nice": false}, "axis": {"values": [0.5, 1], "title": null}},
      "y": {"field": "c", "type": "quantitative", "scale": {"domain": [0, 1], "nice": false}, "axis": {"values": [0.5, 1], "title": null}},
      "y2": {"datum": 0}
     },
     "layer": [
      {"transform": [{"filter": "datum.k == 10"}], "mark": {"type": "area", "color": "#c0c0c0"}},
      {"transform": [{"filter": "datum.k == 8"}], "mark": {"type": "area", "color": "#808080"}},
      {"transform": [{"filter": "datum.k == 6"}], "mark": {"type": "area", "color": "#404040"}},
      {"transform": [{"filter": "datum.k == 4"}], "mark": {"type": "area", "color": "#000000"}}
     ]
    }
   },
   {
    "transform": [{"filter": "datum.a == 8"}],
    "facet": {
     "row": {"field": "a", "type": "ordinal", "header": {"title": "c", "titleOrient": "left", "titlePadding": -10, "labelOrient": "right", "labelPadding": -9, "labelAngle": 0, "labelAlign": "left", "labelBaseline": "middle", "labelExpr": "'a=' + datum.value"}},
     "column": {"field": "p", "type": "ordinal", "header": {"title": null, "labels": false}}
    },
    "spacing": {"row": 0, "column": -1.2},
    "resolve": {"axis": {"x": "independent", "y": "independent"}},
    "spec": {
     "width": 70, "height": 50,
     "encoding": {
      "x": {"field": "b", "type": "quantitative", "scale": {"domain": [0, 1], "nice": false}, "axis": {"values": [0.5, 1], "title": null}},
      "y": {"field": "c", "type": "quantitative", "scale": {"domain": [0, 1], "nice": false}, "axis": {"values": [0.5, 1], "title": null}},
      "y2": {"datum": 0}
     },
     "layer": [
      {"transform": [{"filter": "datum.k == 10"}], "mark": {"type": "area", "color": "#c0c0c0"}},
      {"transform": [{"filter": "datum.k == 8"}], "mark": {"type": "area", "color": "#808080"}},
      {"transform": [{"filter": "datum.k == 6"}], "mark": {"type": "area", "color": "#404040"}},
      {"transform": [{"filter": "datum.k == 4"}], "mark": {"type": "area", "color": "#000000"}}
     ]
    }
   },
   {
    "transform": [{"filter": "datum.a == 10"}],
    "facet": {
     "row": {"field": "a", "type": "ordinal", "header": {"title": "c", "titleOrient": "left", "titlePadding": -10, "labelOrient": "right", "labelPadding": -15, "labelAngle": 0, "labelAlign": "left", "labelBaseline": "middle", "labelExpr": "'a=' + datum.value"}},
     "column": {"field": "p", "type": "ordinal", "header": {"title": null, "labelOrient": "bottom", "labelPadding": 0, "labelExpr": "'b'"}}
    },
    "spacing": {"row": 0, "column": -1.2},
    "resolve": {"axis": {"x": "independent", "y": "independent"}},
    "spec": {
     "width": 70, "height": 50,
     "encoding": {
      "x": {"field": "b", "type": "quantitative", "scale": {"domain": [0, 1], "nice": false}, "axis": {"values": [0.5, 1], "title": null}},
      "y": {"field": "c", "type": "quantitative", "scale": {"domain": [0, 1], "nice": false}, "axis": {"values": [0.5, 1], "title": null}},
      "y2": {"datum": 0}
     },
     "layer": [
      {"transform": [{"filter": "datum.k == 10"}], "mark": {"type": "area", "color": "#c0c0c0"}},
      {"transform": [{"filter": "datum.k == 8"}], "mark": {"type": "area", "color": "#808080"}},
      {"transform": [{"filter": "datum.k == 6"}], "mark": {"type": "area", "color": "#404040"}},
      {"transform": [{"filter": "datum.k == 4"}], "mark": {"type": "area", "color": "#000000"}}
     ]
    }
   }
  ]
 },
 {
  "data": {"name": "leg"},
  "width": 50, "height": 302,
  "view": {"stroke": null},
  "encoding": {"y": {"field": "lab", "type": "nominal", "sort": null, "scale": {"paddingInner": 0, "paddingOuter": 1, "align": 0.735}, "axis": null}},
  "layer": [
   {"mark": {"type": "rect"}, "encoding": {"fill": {"field": "lab", "type": "nominal", "sort": null, "scale": {"domain": ["t≤4", "4<t≤6", "6<t≤8", "8<t≤10", "t>10"], "range": ["#000000", "#404040", "#808080", "#c0c0c0", "#ffffff"]}, "legend": null}}},
   {"mark": {"type": "rect", "fill": null, "stroke": "black", "strokeWidth": 1}, "encoding": {"y": {"datum": "t≤4", "type": "nominal"}, "y2": {"datum": "t>10", "bandPosition": 1}}},
   {"mark": {"type": "text", "align": "left", "dx": -21, "fontSize": 11}, "encoding": {"text": {"field": "lab"}, "color": {"condition": {"test": "datum.lab == 't≤4' || datum.lab == '4<t≤6'", "value": "white"}, "value": "black"}}}
  ]
 }
]
}
